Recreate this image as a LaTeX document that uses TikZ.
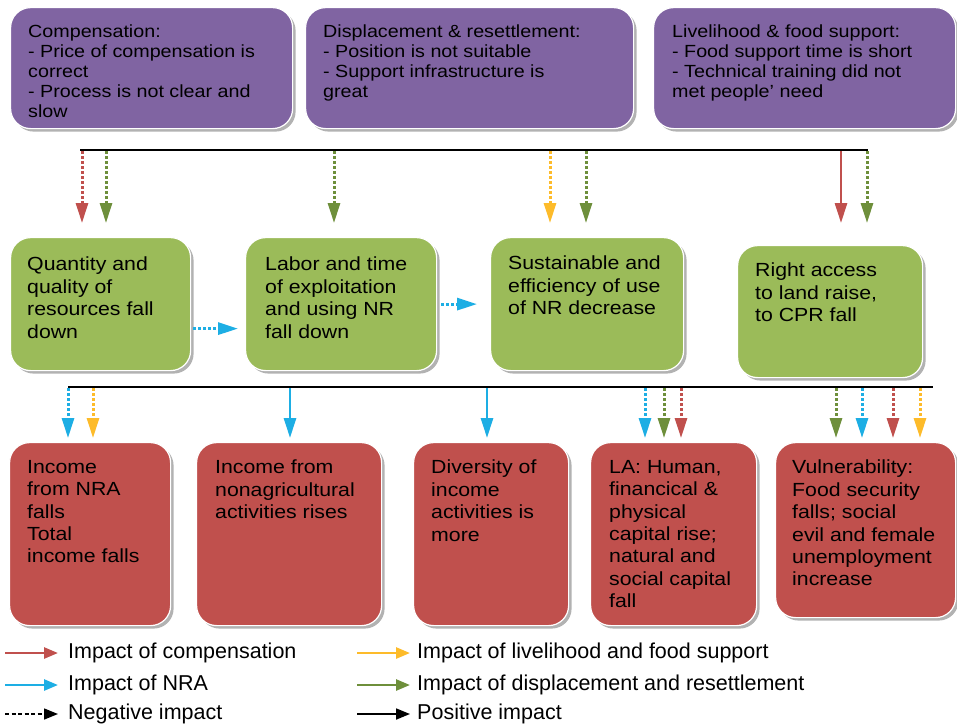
\documentclass[tikz,border=0pt]{standalone}
\usepackage{fontspec}
\setmainfont[FakeStretch=1.12]{Liberation Sans}
\newfontfamily\legendfont{Liberation Sans}
\usetikzlibrary{positioning, shadows, arrows.meta}

\definecolor{boxpurple}{HTML}{8064A2}
\definecolor{boxgreen}{HTML}{9BBB59}
\definecolor{boxred}{HTML}{C0504D}
\definecolor{cred}{HTML}{C0504D}
\definecolor{cgreen}{HTML}{6E8F3B}
\definecolor{cblue}{HTML}{1DAEE4}
\definecolor{cyellow}{HTML}{FDBB2A}

\tikzset{
  box/.style={rounded corners=20pt, draw=white, line width=1.2pt, anchor=north west, inner sep=0pt,
    drop shadow={shadow xshift=3pt, shadow yshift=-3pt, fill=black!50, opacity=0.6}},
  boxtxt/.style={align=left, inner sep=0pt, text=black},
  toptxt/.style={boxtxt, font=\fontsize{17.6}{20}\selectfont},
  midtxt/.style={boxtxt, font=\fontsize{19}{22.4}\selectfont},
  negarrow/.style={line width=3pt, dash pattern=on 2.6pt off 2.4pt, -{Triangle[length=20pt,width=12pt]}},
  posarrow/.style={line width=2.8pt, -{Triangle[length=20pt,width=12pt]}},
  busline/.style={line width=1.8pt, black},
  legtxt/.style={font=\legendfont\fontsize{21.5}{24}\selectfont, anchor=west, inner sep=0pt},
  legarrow/.style={line width=2.6pt, -{Triangle[length=14pt,width=11pt]}},
}

\begin{document}
\begin{tikzpicture}[x=1pt, y=-1pt]
\useasboundingbox[fill=white] (0,0) rectangle (957,725);

% measures
\node[box, fill=boxpurple, minimum width=282pt, minimum height=121pt] (comp) at (10,7) {};
\node[box, fill=boxpurple, minimum width=328pt, minimum height=121pt] (disp) at (305,7) {};
\node[box, fill=boxpurple, minimum width=302pt, minimum height=121pt] (live) at (653,7) {};
\node[toptxt, below right=18pt and 18pt of comp.north west] (comptxt)
  {Compensation:\\- Price of compensation is\\correct\\- Process is not clear and\\slow};
\node[toptxt, below right=18pt and 18pt of disp.north west] (disptxt)
  {Displacement \& resettlement:\\- Position is not suitable\\- Support infrastructure is\\great};
\node[toptxt, below right=18pt and 19pt of live.north west] (livetxt)
  {Livelihood \& food support:\\- Food support time is short\\- Technical training did not\\met people’ need};

% effects on natural resources
\node[box, fill=boxgreen, minimum width=180pt, minimum height=133pt] (qual) at (10,237) {};
\node[box, fill=boxgreen, minimum width=191pt, minimum height=133pt] (labor) at (245,237) {};
\node[box, fill=boxgreen, minimum width=193pt, minimum height=133pt] (sust) at (490,237) {};
\node[box, fill=boxgreen, minimum width=185pt, minimum height=132pt] (right) at (737,245) {};
\node[midtxt, below right=20pt and 17pt of qual.north west] (qualtxt)
  {Quantity and\\quality of\\resources fall\\down};
\node[midtxt, below right=20pt and 20pt of labor.north west] (labortxt)
  {Labor and time\\of exploitation\\and using NR\\fall down};
\node[midtxt, below right=19pt and 18pt of sust.north west] (susttxt)
  {Sustainable and\\efficiency of use\\of NR decrease};
\node[midtxt, below right=18pt and 18pt of right.north west] (righttxt)
  {Right access\\to land raise,\\to CPR fall};

% livelihood outcomes
\node[box, fill=boxred, minimum width=161pt, minimum height=183pt] (incnra) at (9,442) {};
\node[box, fill=boxred, minimum width=185pt, minimum height=183pt] (incnon) at (196,442) {};
\node[box, fill=boxred, minimum width=155pt, minimum height=183pt] (divers) at (413,442) {};
\node[box, fill=boxred, minimum width=166pt, minimum height=183pt] (la) at (590,442) {};
\node[box, fill=boxred, minimum width=180pt, minimum height=175pt] (vuln) at (775,442) {};
\node[midtxt, below right=18pt and 18pt of incnra.north west] (incnratxt)
  {Income\\from NRA\\falls\\Total\\income falls};
\node[midtxt, below right=18pt and 19pt of incnon.north west] (incnontxt)
  {Income from\\nonagricultural\\activities rises};
\node[midtxt, below right=18pt and 18pt of divers.north west] (diverstxt)
  {Diversity of\\income\\activities is\\more};
\node[midtxt, below right=18pt and 19pt of la.north west] (latxt)
  {LA: Human,\\financical \&\\physical\\capital rise;\\natural and\\social capital\\fall};
\node[midtxt, below right=18pt and 17pt of vuln.north west] (vulntxt)
  {Vulnerability:\\Food security\\falls; social\\evil and female\\unemployment\\increase};

% bus lines
\coordinate (topbusL) at (80,150);
\coordinate (topbusR) at (868,150);
\coordinate (lowbusL) at (68,387);
\coordinate (lowbusR) at (933,387);
\draw[busline] (topbusL) -- (topbusR);
\draw[busline] (lowbusL) -- (lowbusR);

\foreach \x/\col/\sty/\tgt/\gap in {82/cred/negarrow/qual/14, 106/cgreen/negarrow/qual/14,
    334/cgreen/negarrow/labor/14, 550/cyellow/negarrow/sust/14, 586/cgreen/negarrow/sust/14,
    841/cred/posarrow/right/22, 867/cgreen/negarrow/right/22}
  \draw[\sty, \col, shorten >=\gap pt] (\x,151) -- (\x,151 |- \tgt.north);

\foreach \x/\col/\sty/\tgt in {68/cblue/negarrow/incnra, 93/cyellow/negarrow/incnra,
    290/cblue/posarrow/incnon, 487/cblue/posarrow/divers,
    645/cblue/negarrow/la, 664/cgreen/negarrow/la, 681/cred/negarrow/la,
    836/cgreen/negarrow/vuln, 862/cblue/negarrow/vuln, 893/cred/negarrow/vuln, 920/cyellow/negarrow/vuln}
  \draw[\sty, \col, shorten >=4pt] (\x,388) -- (\x,388 |- \tgt.north);

\draw[negarrow, cblue, shorten <=2pt, shorten >=7pt] ([yshift=-24.5pt]qual.east) -- ([yshift=-24.5pt]qual.east -| labor.west);
\draw[negarrow, cblue, shorten <=4pt, shorten >=13pt] (labor.east) -- (labor.east -| sust.west);

% legend
\node[legtxt] (lgcomp) at (68,653) {Impact of compensation};
\node[legtxt] (lgnra) at (68,685) {Impact of NRA};
\node[legtxt] (lgneg) at (68,714) {Negative impact};
\node[legtxt] (lglive) at (417,653) {Impact of livelihood and food support};
\node[legtxt] (lgdisp) at (417,685) {Impact of displacement and resettlement};
\node[legtxt] (lgpos) at (417,714) {Positive impact};
\draw[legarrow, cred] ([xshift=-63pt]lgcomp.west) -- ([xshift=-10pt]lgcomp.west);
\draw[legarrow, cblue] ([xshift=-63pt]lgnra.west) -- ([xshift=-10pt]lgnra.west);
\draw[legarrow, black, line width=1.5pt, dash pattern=on 4pt off 2.5pt] ([xshift=-63pt]lgneg.west) -- ([xshift=-10pt]lgneg.west);
\draw[legarrow, cyellow] ([xshift=-60pt]lglive.west) -- ([xshift=-7pt]lglive.west);
\draw[legarrow, cgreen] ([xshift=-60pt]lgdisp.west) -- ([xshift=-7pt]lgdisp.west);
\draw[legarrow, black, line width=1.8pt] ([xshift=-60pt]lgpos.west) -- ([xshift=-7pt]lgpos.west);
\end{tikzpicture}
\end{document}
